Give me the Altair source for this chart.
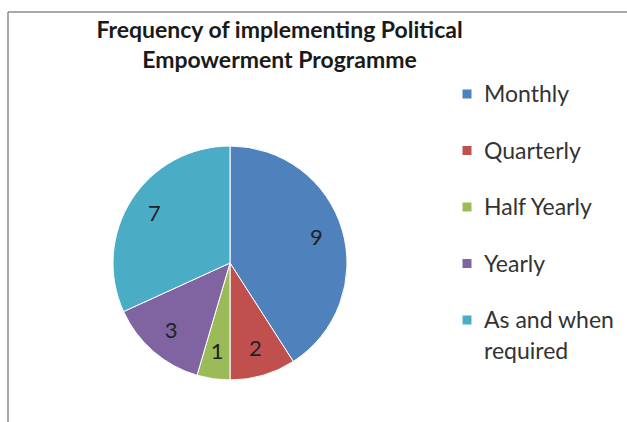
import altair as alt
import pandas as pd

categories = ["Monthly", "Quarterly", "Half Yearly", "Yearly", "As and when required"]
values = [9, 2, 1, 3, 7]
colors = ["#4F81BD", "#C0504D", "#9BBB59", "#8064A2", "#4BACC6"]
order_idx = [0, 1, 2, 3, 4]
title_lines = ["Frequency of implementing Political", "Empowerment Programme"]

df = pd.DataFrame({"category": categories, "value": values, "idx": order_idx})

W, H = 619, 410
CX, CY = 222, 251

color_scale = alt.Scale(domain=categories, range=colors)

base = alt.Chart(df).encode(
    theta=alt.Theta("value:Q", stack=True),
    order=alt.Order("idx:Q"),
)

pie = base.mark_arc(outerRadius=117, stroke="white", strokeWidth=1).encode(
    color=alt.Color("category:N", scale=color_scale, legend=None),
    x=alt.value(CX), y=alt.value(CY),
)
labels = base.mark_text(radius=90, fontSize=22, font="Lato", color="#222222").encode(
    text="value:Q", x=alt.value(CX), y=alt.value(CY)
)

# legend built from the same category list, placed by a point scale
legend_y = alt.Y(
    "category:N",
    scale=alt.Scale(domain=categories, range=[82, 308], padding=0),
    axis=None,
)
leg_base = alt.Chart(df).transform_calculate(
    lines="datum.category == 'As and when required' ? ['As and when', 'required'] : [datum.category]"
)
leg_symbols = leg_base.mark_square(size=81, opacity=1).encode(
    y=legend_y,
    x=alt.value(459),
    color=alt.Color("category:N", scale=color_scale, legend=None),
)
leg_text = leg_base.mark_text(
    align="left", baseline="top", dy=-10, fontSize=23, lineHeight=31,
    font="Lato", color="#333333",
).encode(y=legend_y, x=alt.value(476), text="lines:N")

one = pd.DataFrame({"a": [0]})
left_border = alt.Chart(one).mark_rule(color="#8c8c8c", strokeWidth=1.5).encode(
    x=alt.value(0), y=alt.value(0), y2=alt.value(H)
)
top_border = alt.Chart(one).mark_rule(color="#8c8c8c", strokeWidth=1.5).encode(
    x=alt.value(0), x2=alt.value(W), y=alt.value(0)
)

chart = alt.layer(left_border, top_border, pie, labels, leg_symbols, leg_text).properties(
    width=W, height=H,
    padding={"left": 8, "top": 12, "right": 0, "bottom": 0},
    autosize=alt.AutoSizeParams(type="none"),
    title=alt.Title(
        text=title_lines, font="Lato", fontSize=23, fontWeight="bold",
        color="#1a1a1a", anchor="middle", dx=-38, dy=66, lineHeight=30,
    ),
    background="white",
).configure_view(stroke=None)

chart.save("out.html", embed_options={"renderer": "svg", "actions": False})
